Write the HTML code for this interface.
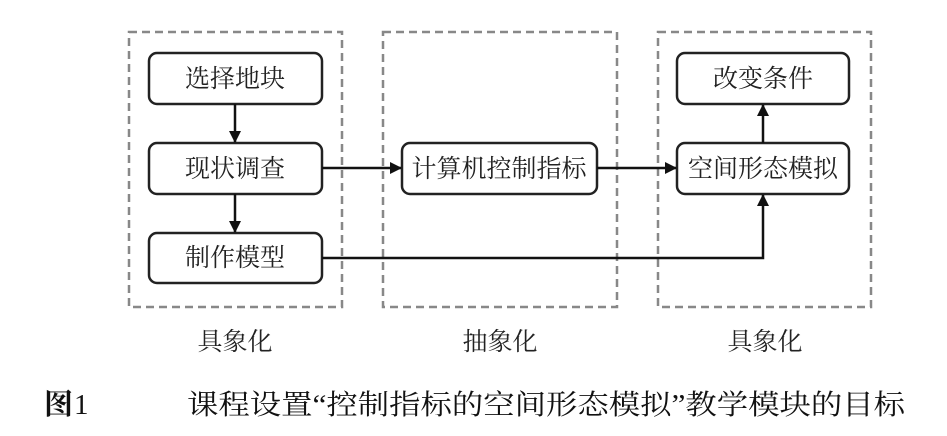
<!DOCTYPE html>
<html><head><meta charset="utf-8"><style>
html,body{margin:0;padding:0;background:#fff;}
svg text{font-family:"Liberation Serif","Noto Serif CJK SC",serif;}
</style></head><body>
<svg width="947" height="431" viewBox="0 0 947 431" xmlns="http://www.w3.org/2000/svg">
<defs><marker id="a" markerWidth="12" markerHeight="12" refX="11" refY="6" orient="auto" markerUnits="userSpaceOnUse"><path d="M0,0 L12,6 L0,12 z" fill="#111"/></marker></defs>
<g fill="none" stroke="#888" stroke-width="2.5" stroke-dasharray="8,5">
<rect x="129" y="32" width="213" height="275"/>
<rect x="383" y="32" width="234" height="275"/>
<rect x="658" y="32" width="213" height="275"/>
</g>
<g fill="#fff" stroke="#222" stroke-width="2.5">
<rect x="149" y="53" width="173" height="51" rx="8"/>
<rect x="149" y="143" width="173" height="51" rx="8"/>
<rect x="149" y="233" width="173" height="50" rx="8"/>
<rect x="402" y="143" width="195" height="51" rx="8"/>
<rect x="677" y="53" width="172" height="51" rx="8"/>
<rect x="677" y="143" width="172" height="51" rx="8"/>
</g>
<g stroke="#111" stroke-width="2.5" fill="none" marker-end="url(#a)">
<line x1="235" y1="104" x2="235" y2="142"/>
<line x1="235" y1="194" x2="235" y2="232"/>
<line x1="322" y1="168" x2="401" y2="168"/>
<line x1="597" y1="168" x2="676" y2="168"/>
<line x1="763" y1="143" x2="763" y2="105"/>
<polyline points="322,258 763,258 763,195"/>
</g>
<g font-size="25" fill="#222" text-anchor="middle">
<text x="235" y="87">选择地块</text>
<text x="235" y="177">现状调查</text>
<text x="235" y="266">制作模型</text>
<text x="499" y="177">计算机控制指标</text>
<text x="763" y="87">改变条件</text>
<text x="763" y="177">空间形态模拟</text>
<text x="235" y="350">具象化</text>
<text x="500" y="350">抽象化</text>
<text x="765" y="350">具象化</text>
</g>
<text x="44" y="414" font-size="29" font-weight="bold" fill="#111">图</text>
<text x="74" y="414" font-size="29" fill="#111">1</text>
<text x="905" y="414" font-size="28" fill="#111" text-anchor="end" textLength="718" lengthAdjust="spacingAndGlyphs">课程设置“控制指标的空间形态模拟”教学模块的目标</text>
</svg>
</body></html>
